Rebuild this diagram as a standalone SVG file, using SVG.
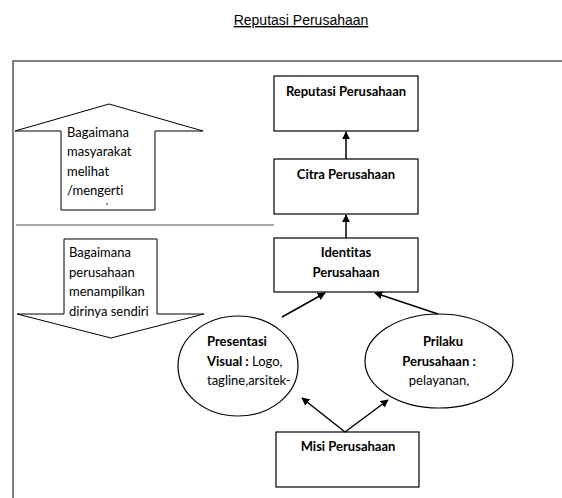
<svg xmlns="http://www.w3.org/2000/svg" width="562" height="498" viewBox="0 0 562 498">
<style>
.box{fill:#fff;stroke:#000;stroke-width:1.2}
.sh{fill:#fff;stroke:#000;stroke-width:1}
.t{font-family:Lato,"Open Sans",sans-serif;font-size:13px;fill:#000;font-variant-ligatures:none}
.b{font-weight:bold}
.c{text-anchor:middle}
.con{stroke:#000;stroke-width:1.5;fill:none;marker-end:url(#ah)}
</style>
<defs>
<marker id="ah" viewBox="0 0 10 10" refX="9" refY="5" markerWidth="8" markerHeight="8" markerUnits="userSpaceOnUse" orient="auto">
<path d="M0,0 L10,5 L0,10 z" fill="#000"/>
</marker>
</defs>
<rect width="562" height="498" fill="#fff"/>
<text x="301" y="25" font-family="Liberation Sans, Arial, sans-serif" font-size="14" text-anchor="middle" text-decoration="underline">Reputasi Perusahaan</text>
<path d="M13,498 L13,61 L562,61" fill="none" stroke="#555" stroke-width="1.5"/>
<line x1="16" y1="225" x2="274" y2="225" stroke="#555" stroke-width="1.2"/>
<g id="up-arrow">
<polygon class="sh" points="15,131 109,104 203,131 155,131 155,210 61,210 61,131"/>
<text class="t" x="67" y="137">Bagaimana</text>
<text class="t" x="67" y="156">masyarakat</text>
<text class="t" x="67" y="176">melihat</text>
<text class="t" x="67" y="195">/mengerti</text>
<circle cx="107" cy="204" r="0.8" fill="#000"/>
</g>
<g id="down-arrow">
<polygon class="sh" points="64,239 157,239 157,314 204,314 111,338 17,314 64,314"/>
<text class="t" x="69" y="257">Bagaimana</text>
<text class="t" x="69" y="277">perusahaan</text>
<text class="t" x="69" y="296">menampilkan</text>
<text class="t" x="69" y="316">dirinya sendiri</text>
</g>
<g id="reputasi">
<rect class="box" x="274" y="76" width="144" height="55"/>
<text class="t b c" x="346" y="96">Reputasi Perusahaan</text>
</g>
<g id="citra">
<rect class="box" x="274" y="159" width="144" height="55"/>
<text class="t b c" x="346" y="179">Citra Perusahaan</text>
</g>
<g id="identitas">
<rect class="box" x="274" y="238" width="144" height="54"/>
<text class="t b c" x="346" y="257">Identitas</text>
<text class="t b c" x="346" y="277">Perusahaan</text>
</g>
<g id="presentasi">
<ellipse class="box" cx="238" cy="366" rx="60" ry="50"/>
<text class="t b" x="207" y="346">Presentasi</text>
<text class="t" x="207" y="366"><tspan class="b">Visual :</tspan> Logo,</text>
<text class="t" x="207" y="385">tagline,arsitek-</text>
</g>
<g id="prilaku">
<ellipse class="box" cx="439" cy="361" rx="74" ry="47"/>
<text class="t b c" x="443" y="346">Prilaku</text>
<text class="t b c" x="439" y="366">Perusahaan :</text>
<text class="t c" x="439" y="385">pelayanan,</text>
</g>
<g id="misi">
<rect class="box" x="276" y="432" width="143" height="55"/>
<text class="t b c" x="348" y="451">Misi Perusahaan</text>
</g>
<g id="connectors">
<line class="con" x1="346" y1="159" x2="346" y2="132"/>
<line class="con" x1="346" y1="238" x2="346" y2="215"/>
<line class="con" x1="282" y1="317" x2="325" y2="293"/>
<line class="con" x1="438" y1="314" x2="375" y2="293"/>
<line class="con" x1="345" y1="432" x2="302" y2="398"/>
<line class="con" x1="345" y1="432" x2="388" y2="400"/>
</g>
</svg>
